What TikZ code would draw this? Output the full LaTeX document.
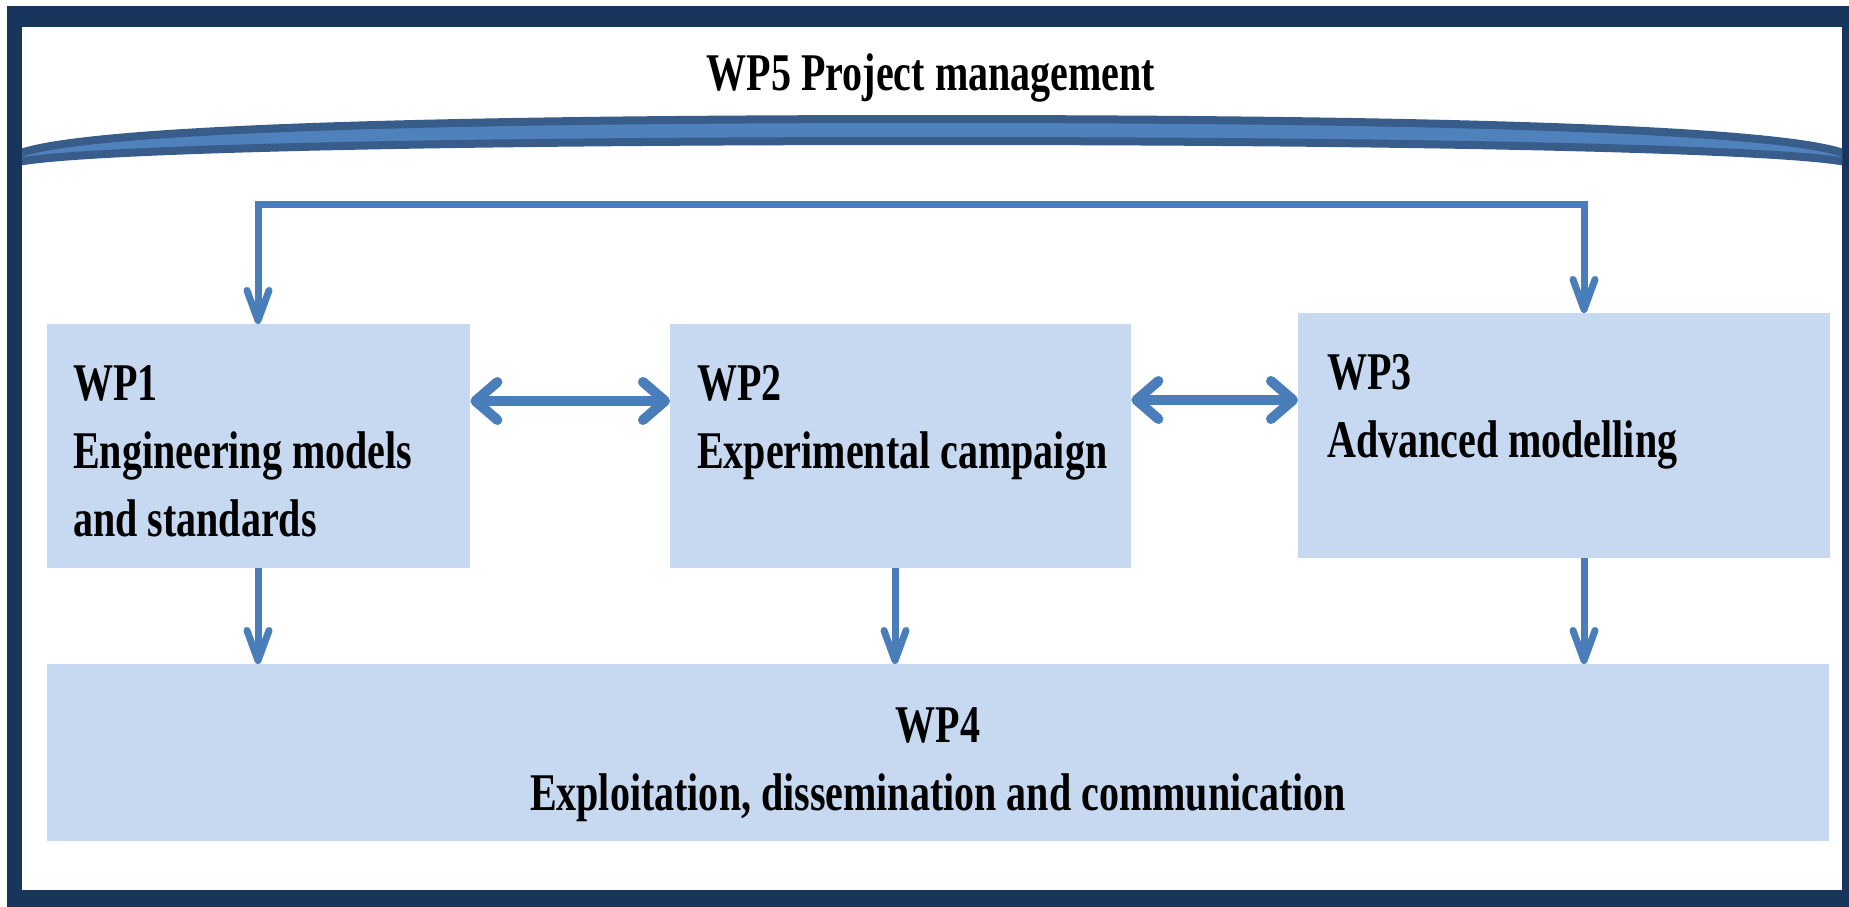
\documentclass[tikz,border=0pt]{standalone}
\usepackage{fontspec}
\setmainfont{Liberation Serif}[FakeStretch=0.755]
\usetikzlibrary{arrows.meta}
\definecolor{frame}{RGB}{24,54,92}
\definecolor{boxfill}{RGB}{198,217,240}
\definecolor{arrowblue}{RGB}{74,126,187}
\definecolor{arcline}{RGB}{56,93,138}
\definecolor{arcfill}{RGB}{79,129,189}

\begin{document}
\begin{tikzpicture}[x=1pt,y=-1pt,
  wpbox/.style={rectangle, fill=boxfill, draw=none, inner sep=0pt, anchor=north west},
  wptext/.style={inner sep=0pt, align=left, anchor=base west,
    font=\bfseries\fontsize{53}{68}\selectfont},
  hconn/.style={draw=arrowblue, line width=10pt,
    {Straight Barb[length=22pt,width=38pt,round]}-{Straight Barb[length=22pt,width=38pt,round]}},
  vconn/.style={draw=arrowblue, line width=7pt},
  vtip/.style={-{Straight Barb[length=30pt,width=22pt,round]}},
]
\useasboundingbox (0,0) rectangle (1849,907);

% outer frame
\fill[frame] (7,6) rectangle (1849,907);
\fill[white] (22,27) rectangle (1842,890);

% project management band
\begin{scope}
  \clip (22,27) rectangle (1842,890);
  \filldraw[fill=arcfill, draw=arcline, line width=8pt, line join=round]
    (18,154) .. controls (80,130) and (400,119) .. (932,119)
    .. controls (1464,119) and (1784,130) .. (1846,154)
    -- (1846,162) .. controls (1784,150) and (1464,141) .. (932,141)
    .. controls (400,141) and (80,150) .. (18,162) -- cycle;
\end{scope}

\node[wptext, anchor=base] (wp5) at (931,90) {WP5 Project management};

% work package boxes
\node[wpbox, minimum width=423pt, minimum height=244pt] (wp1) at (47,324) {};
\node[wpbox, minimum width=461pt, minimum height=244pt] (wp2) at (670,324) {};
\node[wpbox, minimum width=532pt, minimum height=245pt] (wp3) at (1298,313) {};
\node[wpbox, minimum width=1782pt, minimum height=177pt] (wp4) at (47,664) {};

% box texts, placed by the baseline of their last line
\node[wptext] (wp1t) at (73,536) {WP1\\Engineering models\\and standards};
\node[wptext] (wp2t) at (697,468) {WP2\\Experimental campaign};
\node[wptext] (wp3t) at (1327,457) {WP3\\Advanced modelling};
\node[wptext, anchor=base, align=center] (wp4t) at (938,810)
  {WP4\\Exploitation, dissemination and communication};

% connector columns
\coordinate (c1) at (258,204);
\coordinate (c2) at (895,600);
\coordinate (c3) at (1584,204);

% management links to WP1 and WP3
\draw[vconn, {Straight Barb[length=30pt,width=22pt,round]}-{Straight Barb[length=30pt,width=22pt,round]}]
  (wp1.north -| c1) -- (c1) -- (c3) -- (wp3.north -| c3);

% exchanges between WP1, WP2 and WP3
\draw[hconn] (wp1.east |- 0,401) -- (wp2.west |- 0,401);
\draw[hconn] (wp2.east |- 0,400) -- (wp3.west |- 0,400);

% results flowing into WP4
\draw[vconn, vtip] (wp1.south -| c1) -- (wp4.north -| c1);
\draw[vconn, vtip] (wp2.south -| c2) -- (wp4.north -| c2);
\draw[vconn, vtip] (wp3.south -| c3) -- (wp4.north -| c3);
\end{tikzpicture}
\end{document}
